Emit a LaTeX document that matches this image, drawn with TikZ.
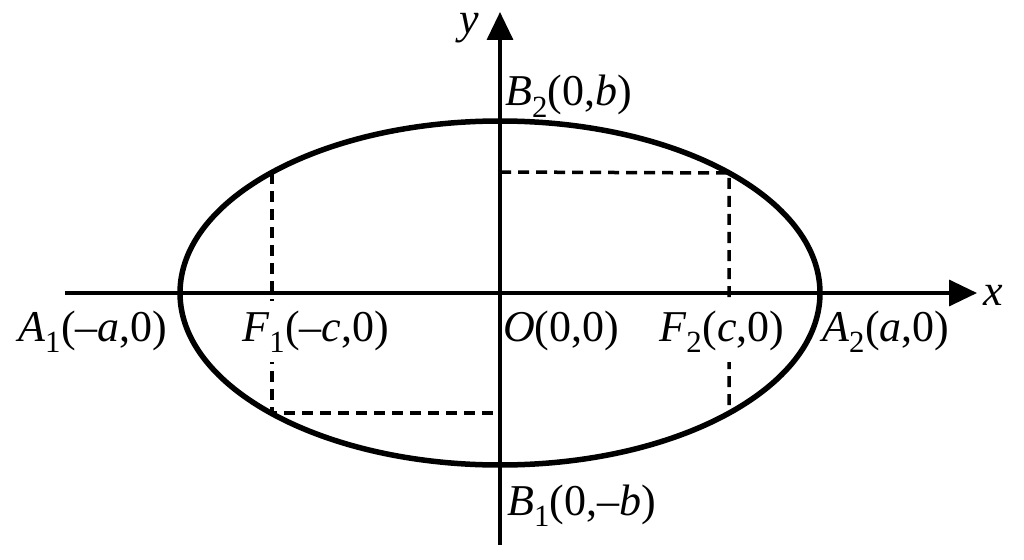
\documentclass[tikz,border=0pt]{standalone}
\usepackage{fontspec}
\setmainfont{Liberation Serif}
\usetikzlibrary{arrows.meta}
\begin{document}
\begin{tikzpicture}[x=1pt,y=-1pt,
  axis/.style={line width=3.5pt,-{Triangle[length=28pt,width=26pt]}},
  curve/.style={line width=5.5pt},
  guide/.style={line width=3.5pt,dash pattern=on 11pt off 7pt},
  lbl/.style={font=\fontsize{44}{50}\selectfont,inner sep=0pt,anchor=base west},
  cover/.style={fill=white,inner xsep=2pt,inner ysep=9pt}]
\useasboundingbox (0,0) rectangle (1024,559);
\coordinate (O) at (500,293);
\coordinate (xs) at (65,293);
\coordinate (xe) at (977,293);
\coordinate (ys) at (500,545);
\coordinate (ye) at (500,12);
\coordinate (F1t) at (272,173);
\coordinate (F1b) at (272,413);
\coordinate (F2t) at (729,173);
\coordinate (F2b) at (729,413);
\coordinate (Bt) at (500,172);
\coordinate (Bb) at (500,413);
% guides
\draw[guide] (F1t) -- (F1b) -- (Bb);
\draw[guide] (Bt) -- (F2t) -- (F2b);
% ellipse
\draw[curve] (O) ellipse [x radius=320pt, y radius=172pt];
% labels that cover the guides
\node[lbl,cover] (lF1) at (240,341) {\textit{F}\textsubscript{1}(–\textit{c},0)};
\node[lbl,cover] (lF2) at (657,341) {\textit{F}\textsubscript{2}(\textit{c},0)};
% axes
\draw[axis] (xs) -- (xe);
\draw[axis] (ys) -- (ye);
% labels
\node[lbl] (lA1) at (18,341) {\textit{A}\textsubscript{1}(–\textit{a},0)};
\node[lbl] (lO) at (503,341) {\textit{O}(0,0)};
\node[lbl] (lA2) at (822,341) {\textit{A}\textsubscript{2}(\textit{a},0)};
\node[lbl] (lB2) at (505,106) {\textit{B}\textsubscript{2}(0,\textit{b})};
\node[lbl] (lB1) at (507,515) {\textit{B}\textsubscript{1}(0,–\textit{b})};
\node[font=\fontsize{44}{50}\selectfont,inner sep=0pt] (ly) at (469,28) {\textit{y}};
\node[font=\fontsize{44}{50}\selectfont,inner sep=0pt] (lx) at (993,295) {\textit{x}};
\end{tikzpicture}
\end{document}
